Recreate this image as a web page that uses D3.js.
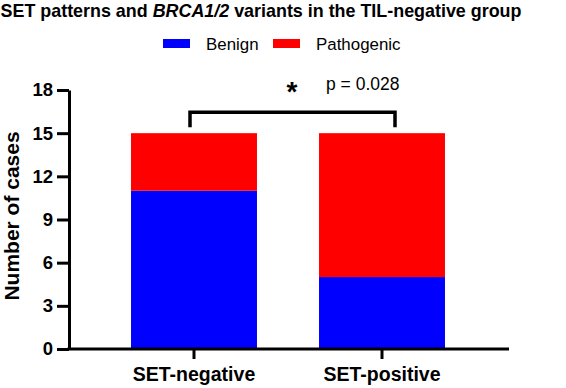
<!DOCTYPE html>
<html><head><meta charset="utf-8">
<script src="https://cdn.jsdelivr.net/npm/d3@7"></script>
<style>body{margin:0;background:#fff}svg{display:block;font-family:"Liberation Sans",Arial,sans-serif}</style>
</head><body>
<svg id="c" width="566" height="388"></svg>
<script>
const categories = ["SET-negative", "SET-positive"];
const seriesNames = ["Benign", "Pathogenic"];
const benign = [11, 5];
const pathogenic = [4, 10];
const yTicks = [0, 3, 6, 9, 12, 15, 18];
const pText = "p = 0.028";
const colors = ["#0000ff", "#ff0000"];

const svg = d3.select("#c");
const y = d3.scaleLinear().domain([0, 18]).range([349, 90]);
const x = d3.scaleBand().domain(categories).range([100, 476]).paddingInner(0.33).paddingOuter(0.165);

const table = categories.map((c, i) => ({cat: c, Benign: benign[i], Pathogenic: pathogenic[i]}));
const stacked = d3.stack().keys(seriesNames)(table);

svg.append("g").selectAll("g").data(stacked).join("g")
  .attr("fill", (d, i) => colors[i])
  .selectAll("rect").data(d => d).join("rect")
  .attr("x", d => x(d.data.cat))
  .attr("width", x.bandwidth())
  .attr("y", d => y(d[1]))
  .attr("height", d => y(d[0]) - y(d[1]));

// y axis
const ya = svg.append("g").attr("transform", "translate(69,0)")
  .call(d3.axisLeft(y).tickValues(yTicks).tickSize(12).tickPadding(4).tickSizeOuter(0));
ya.select(".domain").attr("stroke", "#000").attr("stroke-width", 3);
ya.selectAll(".tick line").attr("stroke", "#000").attr("stroke-width", 3);
ya.selectAll(".tick text").attr("font-size", "18.5px").attr("font-weight", "bold").attr("fill", "#000")
  .attr("font-family", "Liberation Sans, Arial, sans-serif");

// x axis
const xa = svg.append("g").attr("transform", "translate(0,349)")
  .call(d3.axisBottom(x).tickSize(10).tickPadding(8).tickSizeOuter(0));
xa.select(".domain").attr("d", "M67.5,0H509").attr("stroke", "#000").attr("stroke-width", 3);
xa.selectAll(".tick line").attr("stroke", "#000").attr("stroke-width", 3);
xa.selectAll(".tick text").attr("font-size", "19.5px").attr("font-weight", "bold").attr("fill", "#000")
  .attr("font-family", "Liberation Sans, Arial, sans-serif");

// y label
svg.append("text").attr("transform", "translate(19,216) rotate(-90)")
  .attr("text-anchor", "middle").attr("font-size", "21px").attr("font-weight", "bold").text("Number of cases");

// title
const t = svg.append("text").attr("x", 261).attr("y", 17).attr("text-anchor", "middle")
  .attr("font-size", "17.9px").attr("font-weight", "bold");
t.append("tspan").text("SET patterns and ");
t.append("tspan").attr("font-style", "italic").text("BRCA1/2");
t.append("tspan").text(" variants in the TIL-negative group");

// legend
const legX = [163, 273];
seriesNames.forEach((s, i) => {
  svg.append("rect").attr("x", legX[i]).attr("y", 39).attr("width", 27).attr("height", 9).attr("fill", colors[i]);
  svg.append("text").attr("x", legX[i] + 43).attr("y", 50).attr("font-size", "16.9px").text(s);
});

// significance bracket
const xl = x.bandwidth() / 2 + x(categories[0]) - 4;
const xr = x.bandwidth() / 2 + x(categories[1]) + 13;
const yb = y(15) - 21;
svg.append("path").attr("d", `M${xl},${yb + 15}V${yb}H${xr}V${yb + 15}`)
  .attr("fill", "none").attr("stroke", "#000").attr("stroke-width", 3.5);
svg.append("text").attr("x", 292).attr("y", 101).attr("text-anchor", "middle")
  .attr("font-size", "28px").attr("font-weight", "bold").text("*");
svg.append("text").attr("x", 326).attr("y", 90).attr("font-size", "17.5px").text(pText);
</script>
</body></html>
